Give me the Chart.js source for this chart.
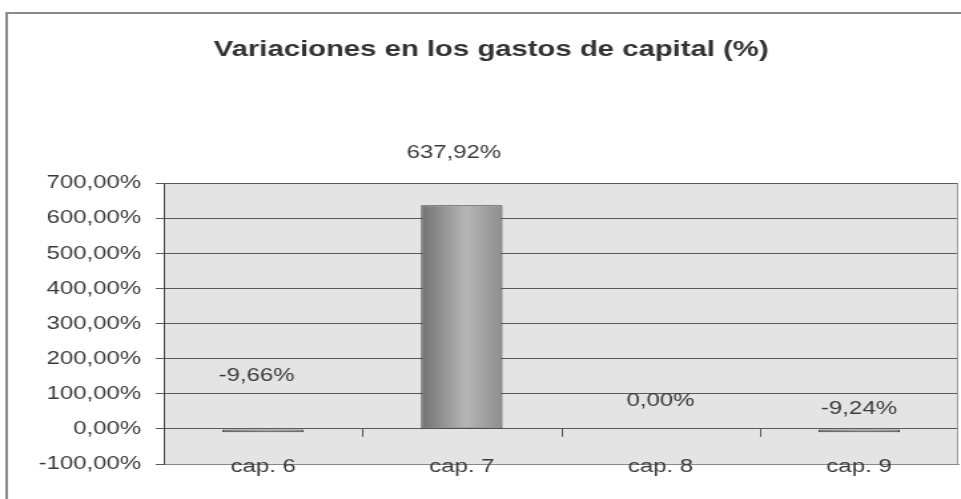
<!DOCTYPE html>
<html lang="es">
<head>
<meta charset="utf-8">
<title>Variaciones en los gastos de capital</title>
<script src="https://cdn.jsdelivr.net/npm/chart.js@4/dist/chart.umd.min.js"></script>
<style>
    html, body { margin: 0; padding: 0; background: #fff; overflow: hidden; }
    /* el gráfico se dibuja más estrecho y se estira en horizontal */
    #wrap { width: 722px; height: 499px; transform: scaleX(1.331); transform-origin: 0 0; }
</style>
</head>
<body>
<div id="wrap"><canvas id="gastosChart" width="722" height="499"></canvas></div>
<script>
"use strict"

//datos del gráfico
const capitulos = ["cap. 6", "cap. 7", "cap. 8", "cap. 9"];
const variaciones = [-9.66, 637.92, 0.00, -9.24];
const ejeMin = -100;
const ejeMax = 700;
const ejePaso = 100;

//desplazamiento de las etiquetas de valor (px)
const etiquetaSubida = [53, 52, 28, 20];
const etiquetaLado = [-5, -6, 0, 0];

const gastosEl = document.getElementById("gastosChart");
const anchoBarra = 0.41;
const fuente = "'Liberation Sans', Arial, sans-serif";

/**
 * Formatea un número como porcentaje con coma decimal.
 */
function porcentaje(v) {
    return v.toFixed(2).replace(".", ",") + "%";
}

/**
 * Degradado horizontal de cada barra.
 */
function rellenoBarra(ctx) {
    const chart = ctx.chart;
    const xs = chart.scales.x;
    if (!chart.chartArea || !xs) {
        return "#9a9a9a";
    }
    const cx = xs.getPixelForValue(ctx.dataIndex);
    const mitad = xs.width / capitulos.length * anchoBarra / 2;
    const g = chart.ctx.createLinearGradient(cx - mitad, 0, cx + mitad, 0);
    g.addColorStop(0, "#727272");
    g.addColorStop(0.55, "#b6b6b6");
    g.addColorStop(1, "#8e8e8e");
    return g;
}

//marco exterior, fondo gris, marcas del eje y etiquetas
const fondo = {
    id: "fondo",
    beforeDraw(chart) {
        const { ctx, chartArea: a } = chart;
        ctx.save();
        ctx.strokeStyle = "#8a8a8a";
        ctx.lineWidth = 2;
        ctx.beginPath();
        ctx.moveTo(5, 499);
        ctx.lineTo(5, 13);
        ctx.lineTo(chart.width, 13);
        ctx.stroke();
        ctx.fillStyle = "#e4e4e4";
        ctx.fillRect(a.left, a.top, a.right - a.left, a.bottom - a.top);
        ctx.restore();
    },
    afterDatasetsDraw(chart) {
        const { ctx, chartArea: a } = chart;
        const xs = chart.scales.x;
        const y0 = chart.scales.y.getPixelForValue(0);
        ctx.save();
        //marcas del eje de categorías sobre la línea del cero
        ctx.strokeStyle = "#555";
        ctx.lineWidth = 1;
        const paso = xs.width / capitulos.length;
        for (let i = 1; i < capitulos.length; i++) {
            const x = Math.round(a.left + paso * i) + 0.5;
            ctx.beginPath();
            ctx.moveTo(x, y0);
            ctx.lineTo(x, y0 + 8);
            ctx.stroke();
        }
        //borde derecho
        ctx.strokeStyle = "#999";
        ctx.beginPath();
        ctx.moveTo(a.right - 0.5, a.top);
        ctx.lineTo(a.right - 0.5, a.bottom);
        ctx.stroke();

        ctx.fillStyle = "#3a3a3a";
        ctx.font = "18px " + fuente;
        ctx.textAlign = "center";
        ctx.textBaseline = "middle";
        //nombres de los capítulos, sobre el borde inferior
        capitulos.forEach((c, i) => {
            ctx.fillText(c, xs.getPixelForValue(i), a.bottom + 3);
        });
        //etiquetas de valor
        chart.getDatasetMeta(0).data.forEach((bar, i) => {
            const tope = Math.min(bar.y, bar.base);
            ctx.fillText(porcentaje(variaciones[i]), bar.x + etiquetaLado[i], tope - etiquetaSubida[i]);
        });
        ctx.restore();
    }
};

new Chart(gastosEl, {
    type: "bar",
    data: {
        labels: capitulos,
        datasets: [{
            label: "Variaciones",
            data: variaciones,
            backgroundColor: rellenoBarra,
            borderColor: "#383838",
            borderWidth: 1,
            borderSkipped: false,
            categoryPercentage: 1,
            barPercentage: anchoBarra
        }]
    },
    options: {
        responsive: false,
        animation: false,
        layout: {
            padding: { left: 18, right: 2, top: 0, bottom: 35 }
        },
        plugins: {
            legend: { display: false },
            tooltip: { enabled: false },
            title: {
                display: true,
                text: "Variaciones en los gastos de capital (%)",
                color: "#333",
                font: { family: fuente, size: 22, weight: "bold" },
                padding: { top: 37, bottom: 120 }
            }
        },
        scales: {
            x: {
                grid: { display: false, drawTicks: false },
                border: { display: true, color: "#888" },
                ticks: { display: false }
            },
            y: {
                min: ejeMin,
                max: ejeMax,
                grid: { color: "#5a5a5a", tickLength: 6, drawTicks: true },
                border: { display: true, color: "#444" },
                ticks: {
                    stepSize: ejePaso,
                    color: "#3a3a3a",
                    padding: 11,
                    font: { family: fuente, size: 18 },
                    callback: (v) => porcentaje(v)
                }
            }
        }
    },
    plugins: [fondo]
});
</script>
</body>
</html>
